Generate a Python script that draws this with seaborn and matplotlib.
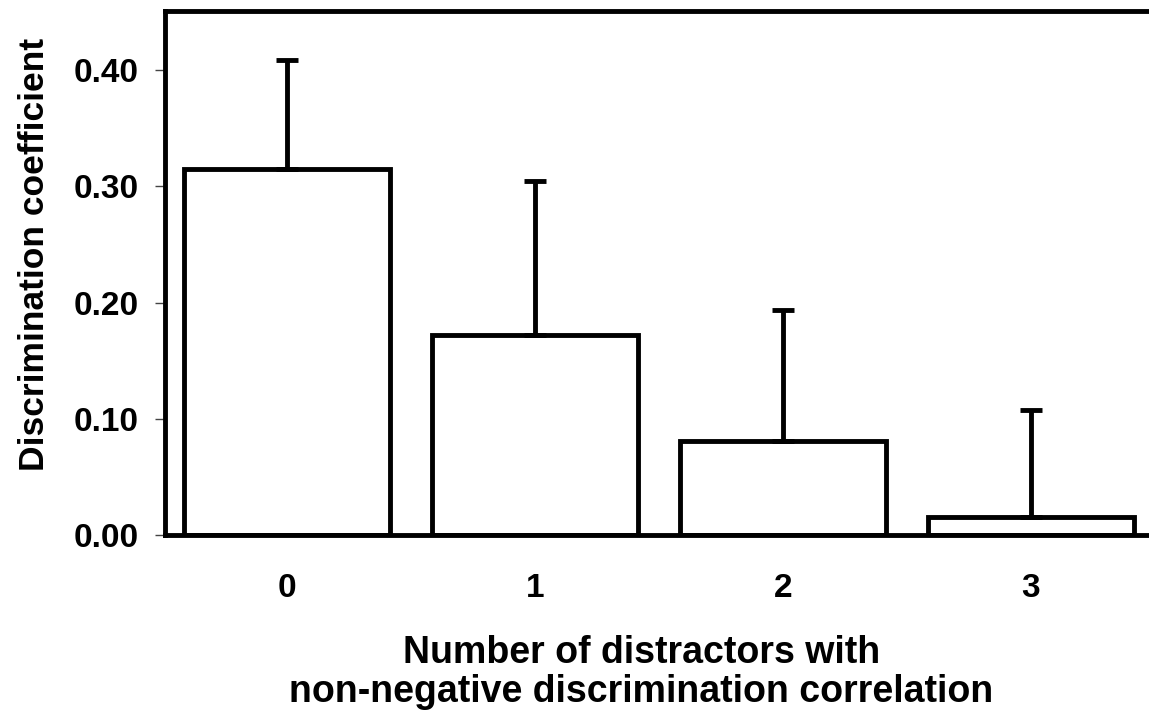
import numpy as np
import pandas as pd
import matplotlib
matplotlib.use("Agg")
import matplotlib.pyplot as plt
import seaborn as sns
from matplotlib.ticker import FormatStrFormatter

# data
categories = ["0", "1", "2", "3"]
means = [0.315, 0.172, 0.081, 0.0155]
errors = [0.094, 0.133, 0.113, 0.092]
yticks = [0.0, 0.1, 0.2, 0.3, 0.4]

df = pd.DataFrame({"n": categories, "coef": means})

sns.set_style("white")
plt.rcParams["font.family"] = ["Liberation Sans", "DejaVu Sans"]
plt.rcParams["font.weight"] = "bold"
plt.rcParams["text.color"] = "black"
plt.rcParams["xtick.color"] = "black"
plt.rcParams["ytick.color"] = "black"

fig = plt.figure(figsize=(11.49, 7.14), dpi=100)
ax = fig.add_axes([0.1436, 0.2507, 0.8616, 0.7339])

sns.barplot(data=df, x="n", y="coef", color="white", edgecolor="black",
            linewidth=3.5, width=0.83, errorbar=None, ax=ax)

# upward-only error bars at the bar centres
xs = [p.get_x() + p.get_width() / 2 for p in ax.patches]
ax.errorbar(xs, means, yerr=[np.zeros(len(errors)), errors], fmt="none",
            ecolor="black", elinewidth=3.5, capsize=8, capthick=3.5, zorder=1)

ax.set_xlim(-0.49, 3.5)
ax.set_ylim(0, 0.451)
ax.set_yticks(yticks)
ax.yaxis.set_major_formatter(FormatStrFormatter("%.2f"))

for side in ["left", "top", "bottom"]:
    ax.spines[side].set_linewidth(3.5)
    ax.spines[side].set_color("black")
ax.spines["right"].set_visible(False)

ax.tick_params(axis="y", which="major", left=True, length=7, width=1,
               color="#444444", labelcolor="black", pad=12, labelsize=24)
ax.tick_params(axis="x", bottom=False, pad=24, labelcolor="black", labelsize=24)
for lbl in ax.get_xticklabels() + ax.get_yticklabels():
    lbl.set_fontweight("bold")

ax.set_xlabel("")
ax.set_ylabel("")
fig.text(0.558, 0.058, "Number of distractors with\nnon-negative discrimination correlation",
         ha="center", va="center", fontsize=27, fontweight="bold",
         color="black", linespacing=1.1)
fig.text(0.030, 0.643, "Discrimination coefficient", rotation=90,
         ha="center", va="center", fontsize=25.5, fontweight="bold", color="black")

fig.savefig("out.png", dpi=100)
